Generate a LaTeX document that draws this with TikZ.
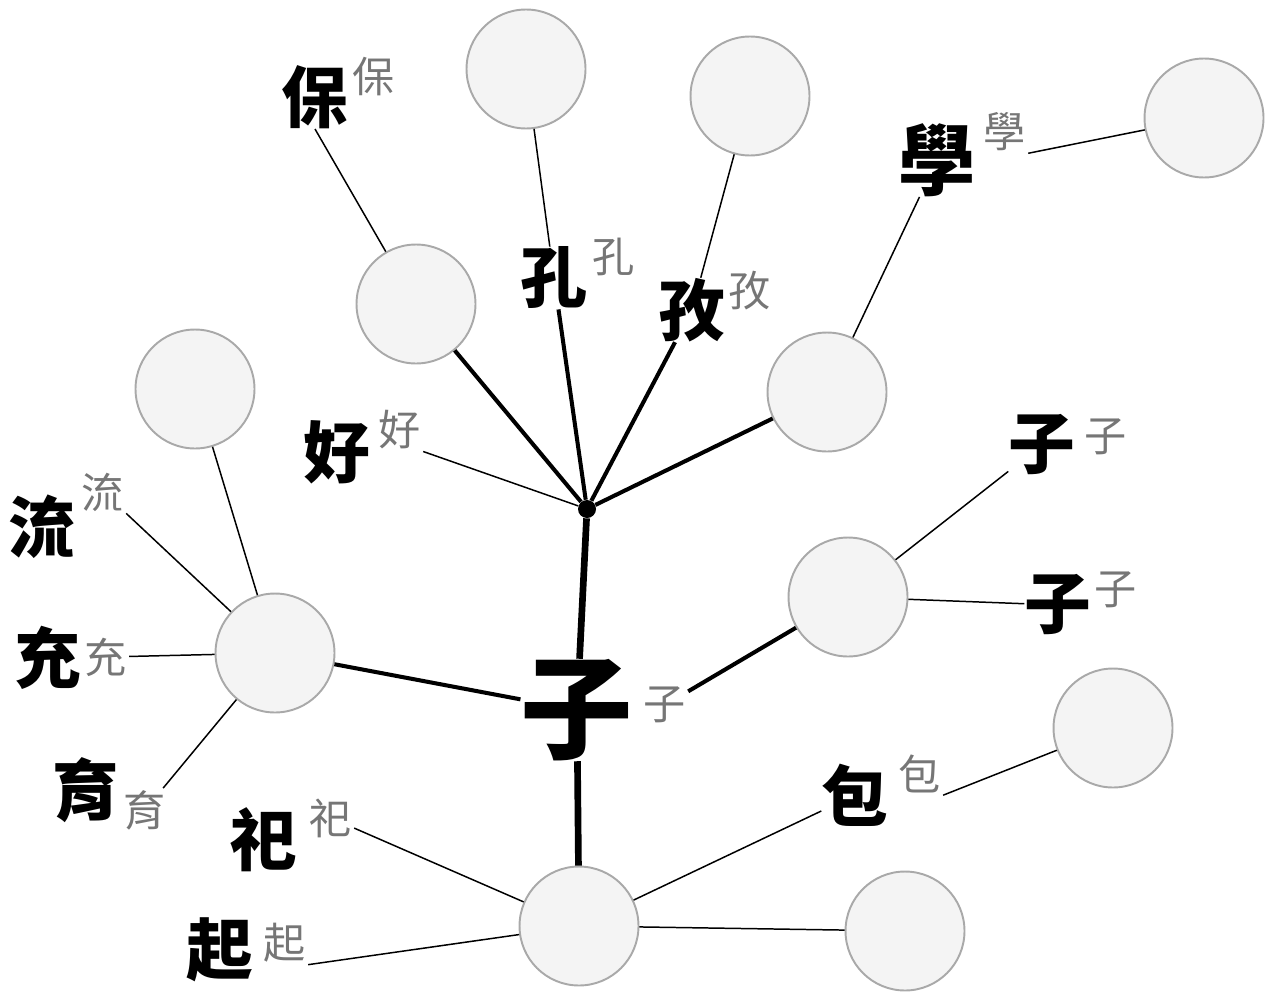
\documentclass[tikz,border=0pt]{standalone}
\usepackage{fontspec}
\usepackage{xcolor}
\usepackage{tikz}
\newfontfamily\cjk{Noto Sans CJK TC}
\definecolor{blobfill}{HTML}{F4F4F4}
\definecolor{blobline}{HTML}{A9A9A9}
\definecolor{glossgray}{HTML}{767676}

\begin{document}
\begin{tikzpicture}[x=0.02cm, y=-0.02cm,
    blob/.style={circle, draw=blobline, fill=blobfill, line width=1.1pt, minimum size=2.38cm, inner sep=0pt},
    glyph/.style={font=\cjk\bfseries\fontsize{38}{38}\selectfont, inner sep=0pt},
    bigglyph/.style={font=\cjk\bfseries\fontsize{64}{64}\selectfont, inner sep=0pt},
    gloss/.style={font=\cjk\fontsize{24}{24}\selectfont, text=glossgray, inner sep=1pt},
    twig/.style={line width=0.85pt},
    branch/.style={line width=2.3pt},
    trunk/.style={line width=3.8pt},
    hub/.style={circle, fill=black, minimum size=0.36cm, inner sep=0pt}]
    \useasboundingbox (0,0) rectangle (1273,1007);

    % Circles
    \foreach \n/\x/\y in {1/526/69, 2/750/96, 3/1204/118, 4/416/304, 5/195/389, 6/827/392,
                          7/848/597, 8/275/653, 9/1113/728, 10/579/926, 11/905/931} {
        \node[blob] (c\n) at (\x,\y) {};
    }

    % Old forms
    \node[bigglyph] (gzi) at (577,710) {子};
    \node[glyph, font=\cjk\bfseries\fontsize{44}{44}\selectfont] (gxue) at (937,160) {學};
    \foreach \n/\x/\y/\ch in {bao/315/97/保, kong/554/278/孔, zix/692/310/孜, hao/337/452/好,
                              ziup/1042/445/子, zidn/1058/605/子, liu/42/527/流, chong/48/658/充,
                              yu/86/790/育, bao2/855/795/包, si/264/840/祀, qi/220/950/起} {
        \node[glyph] (g\n) at (\x,\y) {\ch};
    }

    % Modern forms
    \foreach \n/\x/\y/\ch in {bao/374/77/保, kong/614/257/孔, zix/750/291/孜, xue/1005/132/學,
                              hao/400/430/好, ziup/1106/437/子, zidn/1116/590/子, liu/103/492/流,
                              chong/106/657/充, yu/145/810/育, zi/665/705/子, bao2/920/774/包,
                              si/331/818/祀, qi/285/943/起} {
        \node[gloss] (l\n) at (\x,\y) {\ch};
    }

    \node[hub] (hub) at (587,509) {};

    % Trunk
    \draw[trunk] (hub) -- (gzi);
    \draw[trunk] (gzi) -- (c10);

    % Branches
    \draw[branch] (c8) -- (gzi);
    \draw[branch] (lzi) -- (c7);
    \foreach \t in {c4, gkong, gzix, c6} {
        \draw[branch] (hub) -- (\t);
    }

    % Twigs
    \draw[twig] (hub) -- (lhao.south east);
    \draw[twig] (c4) -- (gbao.south);
    \draw[twig] (c1) -- (gkong);
    \draw[twig] (c2) -- (gzix);
    \draw[twig] (c6) -- (gxue);
    \draw[twig] (lxue.south east) -- (c3);
    \draw[twig] (c7) -- (gziup);
    \draw[twig] (c7) -- (gzidn);
    \draw[twig] (c8) -- (c5);
    \draw[twig] (c8) -- (lliu.south east);
    \draw[twig] (c8) -- (lchong);
    \draw[twig] (c8) -- (lyu);
    \draw[twig] (c10) -- (lsi);
    \draw[twig] (c10) -- (lqi.south east);
    \draw[twig] (c10) -- (gbao2);
    \draw[twig] (c10) -- (c11);
    \draw[twig] (lbao2.south east) -- (c9);
\end{tikzpicture}
\end{document}
